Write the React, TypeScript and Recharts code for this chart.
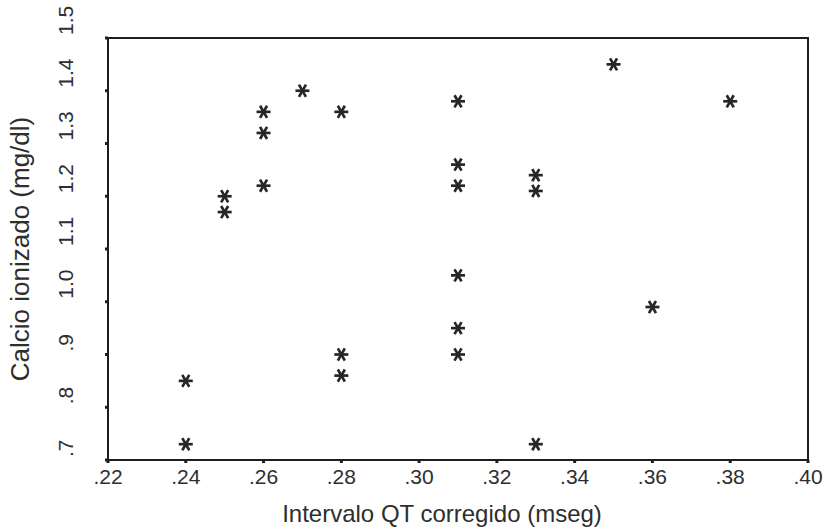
import { ScatterChart, Scatter, XAxis, YAxis, ReferenceArea } from 'recharts'

// Intervalo QT corregido (mseg) vs Calcio ionizado (mg/dl)
const qtValues = [0.24, 0.24, 0.25, 0.25, 0.26, 0.26, 0.26, 0.27, 0.28, 0.28, 0.28, 0.31, 0.31, 0.31, 0.31, 0.31, 0.31, 0.33, 0.33, 0.33, 0.35, 0.36, 0.38]
const calcioValues = [0.85, 0.73, 1.20, 1.17, 1.36, 1.32, 1.22, 1.40, 1.36, 0.90, 0.86, 1.38, 1.26, 1.22, 1.05, 0.95, 0.90, 1.24, 1.21, 0.73, 1.45, 0.99, 1.38]

const xTicks = [0.22, 0.24, 0.26, 0.28, 0.30, 0.32, 0.34, 0.36, 0.38, 0.40]
const yTicks = [0.7, 0.8, 0.9, 1.0, 1.1, 1.2, 1.3, 1.4, 1.5]

const xTitle = 'Intervalo QT corregido (mseg)'
const yTitle = 'Calcio ionizado (mg/dl)'

const data = qtValues.map((x, i) => ({ x, y: calcioValues[i] }))

const FONT = '"Liberation Sans", Arial, sans-serif'
const INK = '#2e2e2e'
const LINE = '#1e1e1e'

// SPSS style: leading zero dropped
const fmtX = (v: number) => v.toFixed(2).replace(/^0/, '')
const fmtY = (v: number) => v.toFixed(1).replace(/^0/, '')

function XTick(props: any) {
  const { x, y, payload } = props
  return (
    <text x={x} y={y + 19} textAnchor="middle" fontSize={21} fontFamily={FONT} fill={INK}>
      {fmtX(payload.value)}
    </text>
  )
}

function YTick(props: any) {
  const { x, y, payload } = props
  const bx = x - 30
  const by = y - 3
  return (
    <text x={bx} y={by} transform={`rotate(-90, ${bx}, ${by})`} textAnchor="start" fontSize={21} fontFamily={FONT} fill={INK}>
      {fmtY(payload.value)}
    </text>
  )
}

function Asterisk(props: any) {
  const { cx, cy } = props
  if (cx == null || cy == null) return null
  const r = 7
  const dx = r * 0.5
  const dy = r * 0.866
  return (
    <g stroke="#262626" strokeWidth={2.7} strokeLinecap="butt">
      <line x1={cx - r} y1={cy} x2={cx + r} y2={cy} />
      <line x1={cx - dx} y1={cy - dy} x2={cx + dx} y2={cy + dy} />
      <line x1={cx + dx} y1={cy - dy} x2={cx - dx} y2={cy + dy} />
    </g>
  )
}

export default function App() {
  return (
    <div style={{ position: 'absolute', left: 0, top: 0, background: '#fff' }}>
      <ScatterChart width={828} height={531} margin={{ top: 38, right: 20, bottom: 0, left: 0 }}>
        <XAxis
          type="number"
          dataKey="x"
          domain={[0.22, 0.4]}
          ticks={xTicks}
          interval={0}
          height={71}
          tickSize={3}
          tickMargin={2}
          axisLine={{ stroke: LINE, strokeWidth: 2 }}
          tickLine={{ stroke: LINE, strokeWidth: 3 }}
          tick={<XTick />}
          allowDataOverflow
          label={{
            content: (p: any) => {
              const vb = p.viewBox
              return (
                <text x={vb.x + vb.width / 2 - 16} y={vb.y + 62} textAnchor="middle" fontSize={24} fontFamily={FONT} fill={INK}>
                  {xTitle}
                </text>
              )
            },
          }}
        />
        <YAxis
          type="number"
          dataKey="y"
          domain={[0.7, 1.5]}
          ticks={yTicks}
          interval={0}
          width={108}
          tickSize={3}
          tickMargin={2}
          axisLine={{ stroke: LINE, strokeWidth: 2 }}
          tickLine={{ stroke: LINE, strokeWidth: 3 }}
          tick={<YTick />}
          allowDataOverflow
          label={{
            content: (p: any) => {
              const vb = p.viewBox
              const lx = vb.x + 29
              const ly = vb.y + vb.height / 2
              return (
                <text x={lx} y={ly} transform={`rotate(-90, ${lx}, ${ly})`} textAnchor="middle" fontSize={26} fontFamily={FONT} fill={INK}>
                  {yTitle}
                </text>
              )
            },
          }}
        />
        <ReferenceArea x1={0.22} x2={0.4} y1={0.7} y2={1.5} fill="none" stroke={LINE} strokeWidth={2} ifOverflow="visible" />
        <Scatter data={data} shape={<Asterisk />} isAnimationActive={false} />
      </ScatterChart>
    </div>
  )
}
